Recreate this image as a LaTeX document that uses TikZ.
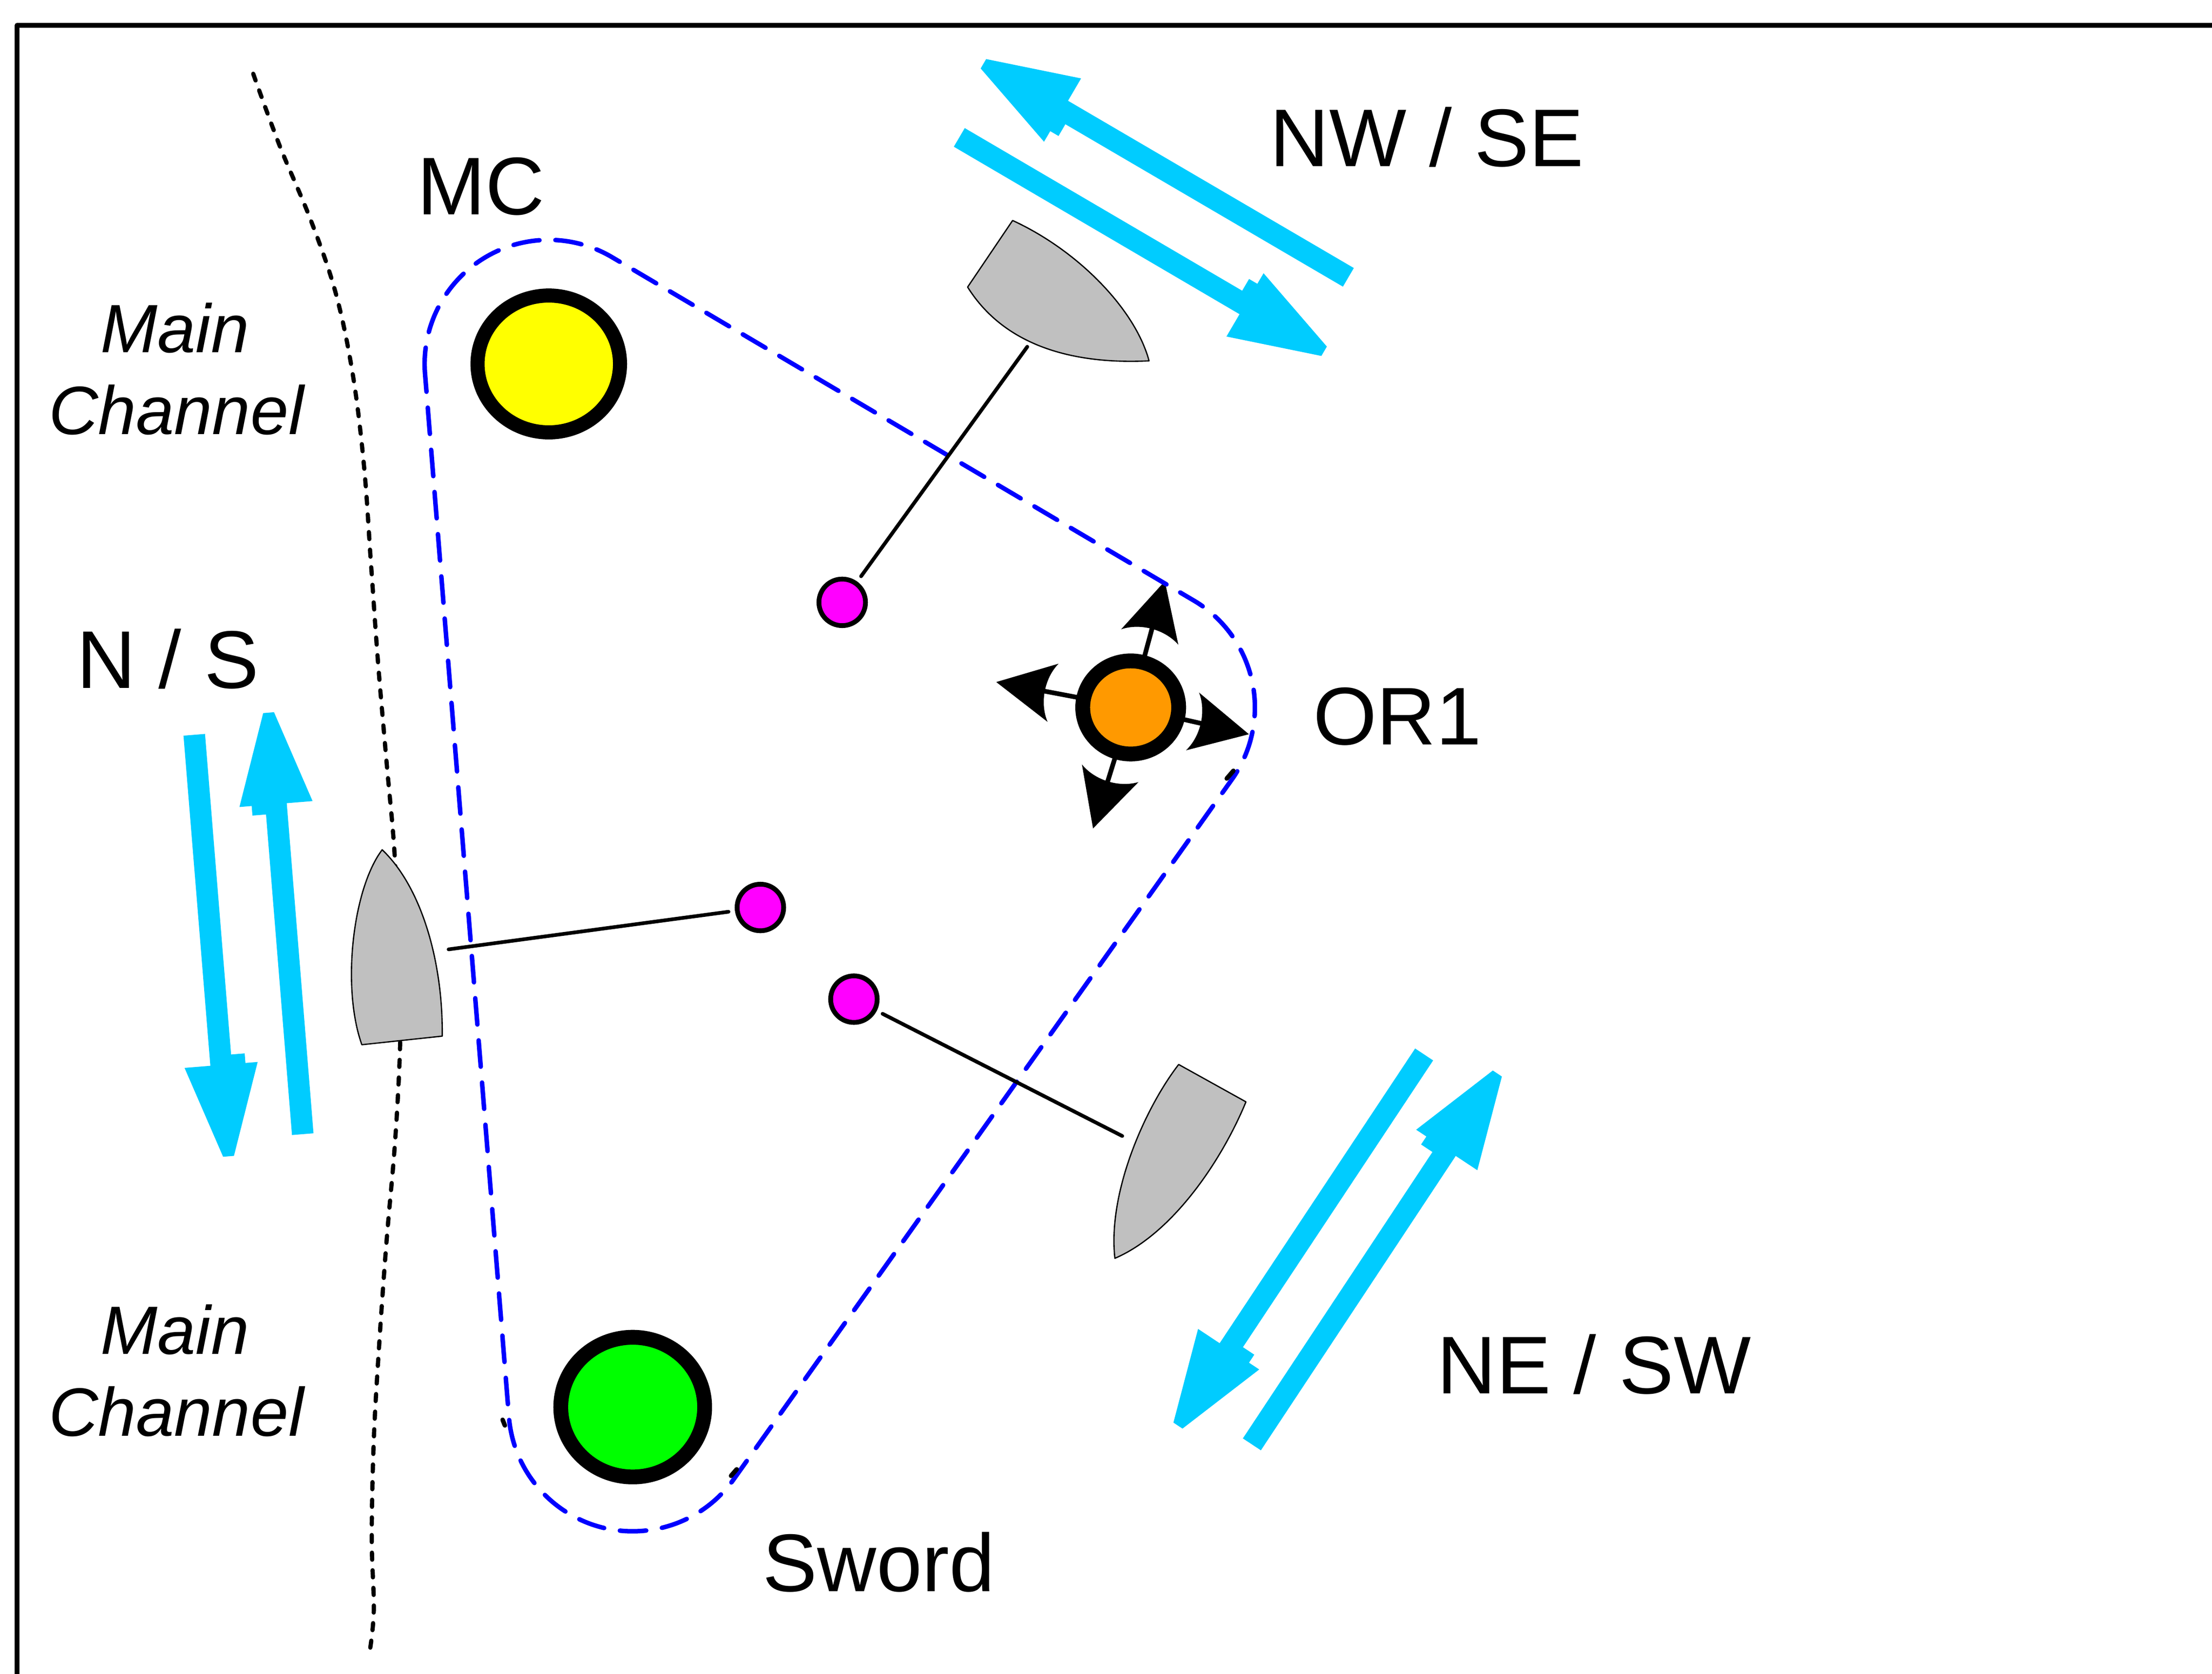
\documentclass[tikz,border=0pt]{standalone}
\usepackage{fontspec}
\setmainfont{Liberation Sans}
\usetikzlibrary{calc,shapes.geometric}
\definecolor{cyanarr}{HTML}{00CCFF}
\definecolor{boatgray}{HTML}{C0C0C0}
\definecolor{pinkdot}{HTML}{FF00FF}
\definecolor{buoyyellow}{HTML}{FFFF00}
\definecolor{buoygreen}{HTML}{00FF00}
\definecolor{buoyorange}{HTML}{FF9900}
\definecolor{routeblue}{HTML}{0000FF}
\newcommand{\cyanarrow}[2]{%
  \fill[cyanarr] ($(#1)!7.65pt!90:(#2)$)
   -- ($(#2)!71.8pt!(#1)!7.65pt!-90:(#1)$)
   -- ($(#2)!71.8pt!(#1)!17.3pt!-90:(#1)$)
   -- ($(#2)!65pt!(#1)!17.3pt!-90:(#1)$)
   -- ($(#2)!65pt!(#1)!26pt!-90:(#1)$)
   -- ($(#2)!3.85pt!-90:(#1)$)
   -- ($(#2)!3.85pt!90:(#1)$)
   -- ($(#2)!65pt!(#1)!26pt!90:(#1)$)
   -- ($(#2)!65pt!(#1)!7.65pt!90:(#1)$)
   -- ($(#1)!7.65pt!-90:(#2)$) -- cycle;}
\newcommand{\orarrow}[2]{%
  \draw[line width=3.3pt] (#1) -- ($(#2)!33pt!(#1)$);
  \fill (#2) -- ($(#2)!41pt!(#1)!21pt!90:(#1)$)
    .. controls ($(#2)!33pt!(#1)!9pt!90:(#1)$) and ($(#2)!33pt!(#1)!9pt!-90:(#1)$)
    .. ($(#2)!41pt!(#1)!21pt!-90:(#1)$) -- cycle;}
\tikzset{
  frameline/.style={line width=3.4pt, line join=round},
  channel/.style={line width=3pt, dash pattern=on 5pt off 7.5pt, line cap=round},
  route/.style={draw=routeblue, line width=3.2pt, dash pattern=on 18.7pt off 11.3pt, line cap=round},
  joinstub/.style={line width=3.2pt, line cap=round},
  boat/.style={fill=boatgray, draw=black, line width=0.9pt, line join=round},
  tether/.style={line width=2.6pt, line cap=round},
  pink/.style={circle, fill=pinkdot, draw=black, line width=3.4pt, minimum size=33pt, inner sep=0pt, outer sep=6.3pt},
  buoy/.style={ellipse, draw=black, line width=10.5pt, inner sep=0pt},
  lbl/.style={font=\fontsize{58}{60}\selectfont, inner sep=0pt, anchor=base},
  chan/.style={font=\fontsize{48.5}{50}\selectfont\itshape, inner sep=0pt, anchor=base}
}
\begin{document}
\begin{tikzpicture}[x=1pt,y=-1pt]
\useasboundingbox (0,0) rectangle (1568,1186.7);
% frame (left and top)
\draw[frameline] (12.1,1200) -- (12.1,18) -- (1580,18);
% channel edge
\draw[channel] plot[smooth, tension=0.6] coordinates {(179.5,52.3) (198.2,103.2) (220.3,156.1) (237.9,207.5) (250,265) (258,330) (263,400) (268,470) (274,540) (280,610) (283.5,700) (283.5,745) (280,810) (274,880) (269,950) (265,1020) (263.5,1090) (265,1140) (262.5,1168)};
% boats
\filldraw[boat] (717.8,156.3) -- (685.9,203.5) .. controls (715,250) and (770,258) .. (814.5,255.8) .. controls (805,220) and (765,178) .. cycle;
\filldraw[boat] (270.9,602.4) .. controls (250,630) and (242,700) .. (256.5,740.6) -- (313.5,734.5) .. controls (314,680) and (298,628) .. cycle;
\filldraw[boat] (835.5,754.6) -- (883.2,781.1) .. controls (865,825) and (830,875) .. (790.3,892) .. controls (785,845) and (812,785) .. cycle;
% OR1 arrows
\coordinate (or1c) at (801.5,501.5);
\coordinate (or1n) at (825.7,412);
\coordinate (or1w) at (706.2,483.5);
\coordinate (or1e) at (885.3,520.5);
\coordinate (or1s) at (774.8,587.3);
\orarrow{or1c}{or1n}
\orarrow{or1c}{or1w}
\orarrow{or1c}{or1e}
\orarrow{or1c}{or1s}
\node[buoy, fill=buoyorange, minimum width=68pt, minimum height=66pt] (OR1) at (or1c) {};
% route
\draw[route] (301.3,265.1) arc[start angle=175.4, end angle=300.5, radius=88]
  -- (846.2,425.7) arc[start angle=300.5, end angle=395.4, radius=88]
  -- (520.2,1048.5) arc[start angle=35.4, end angle=175.4, radius=88] -- cycle;
\coordinate (jA1) at (869.6,551.9); \coordinate (jA2) at (874.3,546.4);
\coordinate (jB1) at (356.3,1006.5); \coordinate (jB2) at (357.9,1010.5);
\coordinate (jC1) at (518.2,1046.2); \coordinate (jC2) at (522.2,1041.6);
\draw[joinstub] (jA1) -- (jA2);
\draw[joinstub] (jB1) -- (jB2);
\draw[joinstub] (jC1) -- (jC2);
% marks and tethers
\node[pink] (p1) at (597,427) {};
\node[pink] (p2) at (539,643.3) {};
\node[pink] (p3) at (605.3,708.3) {};
\coordinate (tieA) at (728.2,245.8);
\coordinate (tieB) at (318,673);
\coordinate (tieC) at (795.5,805.3);
\draw[tether] (tieA) -- (p1);
\draw[tether] (tieB) -- (p2);
\draw[tether] (p3) -- (tieC);
% buoys
\node[buoy, fill=buoyyellow, line width=10pt, minimum width=101pt, minimum height=97pt] (MCb) at (389,258) {};
\node[buoy, fill=buoygreen, minimum width=102pt, minimum height=99pt] (Swb) at (448.5,997.5) {};
% tidal arrows
\coordinate (nsAt) at (137.7,520.9); \coordinate (nsAh) at (162,819.7);
\coordinate (nsBt) at (214.6,804);   \coordinate (nsBh) at (190.4,505.2);
\coordinate (nwAt) at (955.8,196.6); \coordinate (nwAh) at (697.1,45.2);
\coordinate (nwBt) at (680,97.4);    \coordinate (nwBh) at (938.6,249);
\coordinate (neAt) at (1009.5,747.5); \coordinate (neAh) at (835,1010.6);
\coordinate (neBt) at (887.4,1023.9); \coordinate (neBh) at (1061.4,761);
\cyanarrow{nsAt}{nsAh}
\cyanarrow{nsBt}{nsBh}
\cyanarrow{nwAt}{nwAh}
\cyanarrow{nwBt}{nwBh}
\cyanarrow{neAt}{neAh}
\cyanarrow{neBt}{neBh}
% labels
\node[lbl] (tMC) at (341,152) {MC};
\node[lbl] (tNW) at (1011.5,118) {NW / SE};
\node[lbl] (tOR) at (990.5,528) {OR1};
\node[lbl] (tNS) at (119,488) {N / S};
\node[lbl] (tSw) at (623,1128) {Sword};
\node[lbl] (tNE) at (1130,988) {NE / SW};
\node[chan] (tM1) at (124,250) {Main};
\node[chan] (tC1) at (125,308) {Channel};
\node[chan] (tM2) at (124,960) {Main};
\node[chan] (tC2) at (125,1018) {Channel};
\end{tikzpicture}
\end{document}
